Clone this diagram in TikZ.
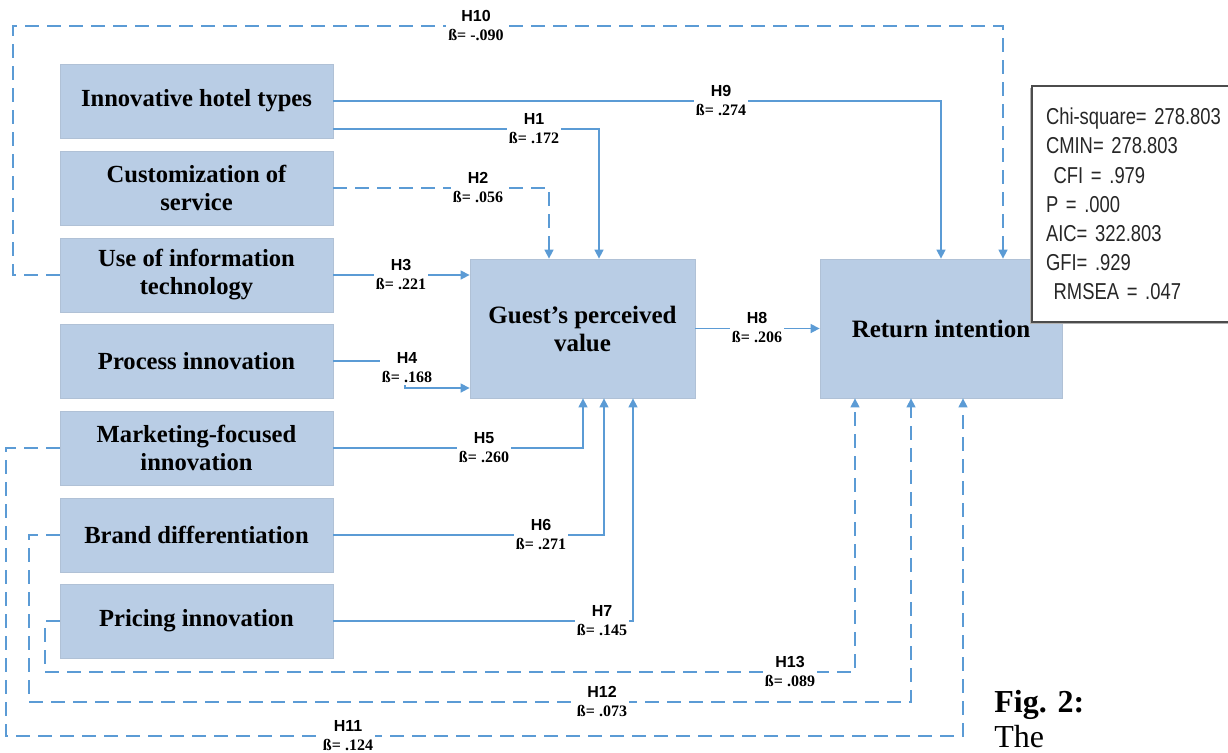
\documentclass[tikz,border=0pt]{standalone}
\usepackage{fontspec}
\setmainfont{Liberation Serif}
\setsansfont{Liberation Sans}
\newfontfamily\statfont[FakeStretch=0.8]{Liberation Sans}
\usetikzlibrary{arrows.meta,shadows}
\definecolor{boxblue}{HTML}{B9CDE5}
\definecolor{linkblue}{HTML}{5B9BD5}
\newcommand{\hlab}[2]{{\sffamily #1}\\ß= #2}
\newcommand{\statsize}{\statfont\fontsize{11.5}{14.6}\selectfont\spaceskip=2pt\relax}

\begin{document}
\begin{tikzpicture}[x=0.5pt,y=-0.5pt,
  factor/.style={rectangle,fill=boxblue,draw=boxblue!85!gray,line width=0.4pt,
    minimum width=136.5pt,minimum height=37pt,inner sep=0pt,align=center,
    font=\fontsize{12.3}{14}\selectfont\bfseries},
  bigbox/.style={factor,minimum height=69.5pt,font=\fontsize{12.5}{14}\selectfont\bfseries},
  link/.style={draw=linkblue,line width=0.75pt,-{Triangle[length=4.5pt,width=4.5pt]}},
  dashlink/.style={link,dash pattern=on 7pt off 4pt},
  lbl/.style={fill=white,inner sep=1pt,align=center,font=\fontsize{8}{9.5}\selectfont\bfseries}]
\useasboundingbox (0,0) rectangle (1228,752);

% Draw the factor boxes
\node[factor] (iht) at (196.5,101) {Innovative hotel types};
\node[factor] (cos) at (196.5,188) {Customization of\\service};
\node[factor] (uit) at (196.5,275) {Use of information\\technology};
\node[factor] (pin) at (196.5,361) {Process innovation};
\node[factor] (mfi) at (196.5,448) {Marketing-focused\\innovation};
\node[factor] (bdf) at (196.5,535) {Brand differentiation};
\node[factor] (pri) at (196.5,621) {Pricing innovation};

% Mediator and outcome
\node[bigbox,minimum width=112.5pt] (gpv) at (582.5,328.5) {Guest’s perceived\\value};
\node[bigbox,minimum width=121pt] (rin) at (941,328.5) {Return intention};

% Paths to perceived value
\draw[link] (iht.east |- 0,129) -| (gpv.north -| 599,0);
\draw[dashlink] (cos.east) -| (gpv.north -| 549,0);
\draw[link] (uit.east) -- (gpv.west |- uit.east);
\draw[link] (pin.east) -- (405,361) -- (405,388) -- (gpv.west |- 0,388);
\draw[link] (mfi.east) -| (gpv.south -| 583,0);
\draw[link] (bdf.east) -| (gpv.south -| 604,0);
\draw[link] (pri.east) -| (gpv.south -| 633,0);

% Paths to return intention
\draw[link] (gpv.east) -- (rin.west);
\draw[link] (iht.east) -| (rin.north -| 941,0);
\draw[dashlink] (uit.west) -| (13,26) -| (rin.north -| 1003,0);
\draw[dashlink] (mfi.west) -| (6,736) -| (rin.south -| 963,0);
\draw[dashlink] (bdf.west) -| (29,702) -| (rin.south -| 911,0);
\draw[dashlink] (pri.west) -| (45,672) -| (rin.south -| 855,0);

% Label the paths
\node[lbl] (l1) at (534,129) {\hlab{H1}{.172}};
\node[lbl] (l2) at (478,188) {\hlab{H2}{.056}};
\node[lbl] (l3) at (401,275) {\hlab{H3}{.221}};
\node[lbl] (l4) at (407,368) {\hlab{H4}{.168}};
\node[lbl] (l5) at (484,448) {\hlab{H5}{.260}};
\node[lbl] (l6) at (541,535) {\hlab{H6}{.271}};
\node[lbl] (l7) at (602,621) {\hlab{H7}{.145}};
\node[lbl] (l8) at (757,328) {\hlab{H8}{.206}};
\node[lbl] (l9) at (721,101) {\hlab{H9}{.274}};
\node[lbl] (l10) at (476,26) {\hlab{H10}{-.090}};
\node[lbl] (l11) at (348,736) {\hlab{H11}{.124}};
\node[lbl] (l12) at (602,702) {\hlab{H12}{.073}};
\node[lbl] (l13) at (790,672) {\hlab{H13}{.089}};

% Model fit box
\node[draw=gray!60!black,line width=1pt,fill=white,anchor=north west,minimum width=110pt,
  minimum height=118pt,text width=96pt,inner xsep=7pt,align=left,text=black!85,
  drop shadow={shadow xshift=-0.8pt,shadow yshift=-1.2pt,fill=gray!60,opacity=1},
  font=\statsize] (fit) at (1031,85)
  {Chi-square= 278.803\\CMIN= 278.803\\\ CFI = .979\\P = .000\\AIC= 322.803\\GFI= .929\\\ RMSEA = .047};

% Caption
\node[anchor=base west,inner sep=0pt,font=\fontsize{16}{17.5}\selectfont\bfseries] (cap) at (994,712) {Fig. 2:};
\node[anchor=base west,inner sep=0pt,font=\fontsize{16}{17.5}\selectfont] (capb) at (994,747) {The};
\end{tikzpicture}
\end{document}
